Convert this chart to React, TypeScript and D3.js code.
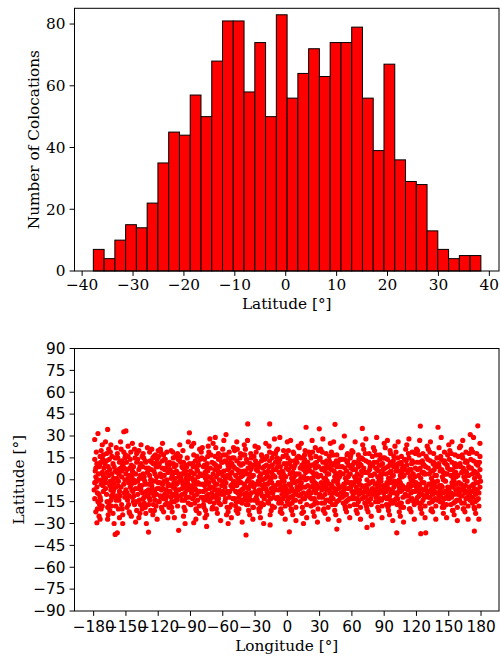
import React from "react";
import * as d3 from "d3";

// Histogram of latitude (counts per bin)
const binStart = -37.8;
const binWidth = 2.115;
const counts = [7, 4, 10, 15, 14, 22, 35, 45, 44, 57, 50, 68, 81, 81, 58, 74, 50, 83, 56, 64, 72, 63, 74, 74, 79, 56, 39, 67, 36, 29, 28, 13, 7, 4, 5, 5];
const histXTicks = [-40, -30, -20, -10, 0, 10, 20, 30, 40];
const histYTicks = [0, 20, 40, 60, 80];

const lonTicks = [-180, -150, -120, -90, -60, -30, 0, 30, 60, 90, 120, 150, 180];
const latTicks = [-90, -75, -60, -45, -30, -15, 0, 15, 30, 45, 60, 75, 90];

// Colocation positions [longitude, latitude]
const pointsA: [number, number][] = [
[-179,27.6],[-176,31.7],[-178,-22],[-177,-29.5],[-179,14],[-178,2],[-177,-5],[-175,9],[-174,-12],[-179,-2],[-176,-15],[-173,20],[-172,5],[-171,-8],[-175,-25],[-173,-3],[-170,12],[-178,8],[-174,16],[-172,-18],[-176,0],[-171,3],[-173,-20],[-177,11],[-175,-10],[-170,-1],[-172,24],[-179,-13],[-174,-27],[-171,17],
[-167,34.5],[-169,26],[-166,21],[-168,13],[-165,7],[-163,-1],[-169,-6],[-164,-14],[-167,-19],[-162,-23],[-160,-37.5],[-161,-30],[-166,3],[-168,-10],[-163,16],[-161,9],[-165,-4],[-169,1],[-162,-9],[-164,24],[-167,-27],[-160,15],[-163,4],[-166,-16],[-161,-2],[-168,18],[-164,-7],[-162,11],[-165,-21],[-160,6],
[-158,-36.4],[-152,32.9],[-150,33.5],[-158,18],[-156,12],[-154,2],[-159,-5],[-151,-12],[-157,-20],[-153,-24],[-155,8],[-152,-3],[-159,22],[-151,15],[-156,-8],[-154,-17],[-158,5],[-153,10],[-157,-1],[-150,-7],[-155,26],[-152,19],[-159,-14],[-151,0],[-156,-26],[-154,13],[-158,-11],[-153,-30],[-150,4],[-157,7],
[-148,23],[-146,14],[-144,6],[-142,-2],[-149,-9],[-143,-15],[-147,-22],[-141,-29],[-145,10],[-148,1],[-146,-5],[-140,18],[-144,-12],[-142,21],[-149,-19],[-147,3],[-143,9],[-141,-6],[-145,-25],[-148,16],[-146,-1],[-140,12],[-144,25],[-142,-17],[-149,7],[-147,-11],[-143,0],[-141,4],[-145,-3],[-140,-21],
[-138,20],[-136,11],[-134,4],[-132,-3],[-139,-10],[-133,-16],[-137,-23],[-131,-30],[-135,16],[-138,7],[-136,-7],[-130,22],[-134,-13],[-132,13],[-139,-1],[-137,9],[-133,2],[-131,-8],[-135,-20],[-129,-35.9],[-138,-26],[-136,24],[-130,5],[-134,18],[-132,-19],[-139,14],[-137,-4],[-133,-12],[-131,8],[-135,1],
[-128,19],[-126,12],[-124,6],[-122,-1],[-129,-7],[-123,-14],[-127,-21],[-121,-27],[-125,15],[-128,3],[-126,-4],[-120,20],[-124,-11],[-122,9],[-129,-17],[-127,0],[-123,11],[-121,-6],[-125,-24],[-128,-13],[-126,21],[-120,-2],[-124,16],[-122,-18],[-129,8],[-127,-9],[-123,4],[-121,14],[-125,-1],[-120,-15],
[-118,21],[-116,13],[-114,7],[-112,0],[-119,-6],[-113,-13],[-117,-19],[-111,-26],[-115,17],[-118,4],[-116,-3],[-110,10],[-114,-10],[-112,19],[-119,-15],[-117,2],[-113,8],[-111,-4],[-115,-22],[-118,-11],[-116,25],[-110,-8],[-114,14],[-112,-16],[-119,11],[-117,-7],[-113,-1],[-111,5],[-115,-13],[-110,-19],
[-108,20],[-106,15],[-104,5],[-102,-2],[-109,-8],[-103,-14],[-107,-22],[-101,-34.7],[-105,9],[-108,1],[-106,-5],[-100,13],[-104,-11],[-102,18],[-109,-17],[-107,3],[-103,6],[-101,-7],[-105,-26],[-108,-12],[-106,11],[-100,-1],[-104,16],[-102,-18],[-109,7],[-107,-10],[-103,-3],[-101,2],[-105,-15],[-100,24],
[-99,12],[-97,8],[-95,4],[-93,-1],[-98,-6],[-94,-12],[-96,-19],[-91,32.2],[-92,26],[-99,2],[-97,-3],[-90,6],[-95,-9],[-93,15],[-98,-14],[-96,5],[-94,1],[-91,-4],[-95,-21],[-99,-11],[-97,20],[-90,-7],[-94,10],[-92,-16],[-98,9],[-96,-2],[-93,3],[-91,11],[-95,-30],[-90,-17],
[-87,-29.5],[-89,23],[-87,17],[-85,9],[-83,2],[-88,-4],[-84,-10],[-86,-16],[-82,-23],[-81,14],[-89,5],[-87,-1],[-80,19],[-85,-7],[-83,12],[-88,-13],[-86,0],[-84,7],[-81,-3],[-85,-20],[-89,-9],[-87,25],[-80,-12],[-84,16],[-82,-18],[-88,11],[-86,-6],[-83,-2],[-81,4],[-85,-27],
[-79,22],[-77,14],[-75,8],[-73,-2],[-78,-8],[-74,-14],[-76,-21],[-75,-32],[-72,28],[-79,3],[-77,-4],[-70,12],[-75,-11],[-73,19],[-78,-17],[-76,1],[-74,6],[-71,-5],[-75,-24],[-79,-12],[-77,10],[-70,-9],[-74,16],[-72,-15],[-78,9],[-76,-7],[-73,2],[-71,17],[-75,-1],[-70,-20],
[-69,25],[-67,16],[-65,7],[-63,0],[-68,-6],[-64,-13],[-66,-20],[-62,-28],[-61,12],[-69,4],[-67,-3],[-60,21],[-65,-10],[-63,9],[-68,-16],[-66,2],[-64,14],[-61,-4],[-65,-23],[-69,-11],[-67,29],[-60,-8],[-64,18],[-62,-17],[-68,11],[-66,-7],[-63,5],[-61,-1],[-65,-14],[-60,3],
[-59,27],[-57,17],[-55,10],[-53,1],[-58,-5],[-54,-12],[-56,-19],[-52,-26],[-51,15],[-59,6],[-57,-2],[-50,22],[-55,-9],[-53,12],[-58,-15],[-56,3],[-54,8],[-51,-6],[-55,-22],[-59,-10],[-57,31],[-50,-1],[-54,19],[-52,-17],[-58,13],[-56,-8],[-53,4],[-51,-3],[-55,-30],[-50,9],
[-49,20],[-47,13],[-45,5],[-43,-2],[-48,-8],[-44,-15],[-46,-23],[-42,-29],[-41,17],[-49,8],[-47,-4],[-40,24],[-45,-12],[-43,10],[-48,-18],[-46,1],[-44,6],[-41,-6],[-45,-20],[-49,-13],[-47,26],[-40,-10],[-44,15],[-42,-16],[-48,3],[-46,-9],[-43,2],[-41,11],[-45,-1],[-40,-3],
[-36.8,38.3],[-38.4,-37.9],[-39,21],[-37,12],[-35,4],[-33,-3],[-38,-9],[-34,-14],[-36,-21],[-32,-27],[-31,16],[-39,6],[-37,-1],[-30,23],[-35,-11],[-33,9],[-38,-17],[-36,0],[-34,7],[-31,-5],[-35,-24],[-39,-12],[-37,27],[-30,-8],[-34,18],[-32,-19],[-38,14],[-36,-6],[-33,2],[-31,10],
[-29,19],[-27,11],[-25,3],[-23,-4],[-28,-10],[-24,-16],[-26,-22],[-22,-30],[-21,14],[-29,7],[-27,-1],[-20,25],[-25,-8],[-23,8],[-28,-14],[-26,2],[-24,13],[-21,-3],[-25,-19],[-29,-12],[-27,22],[-20,-6],[-24,17],[-22,-17],[-28,10],[-26,-7],[-23,0],[-21,5],[-25,-26],[-20,-11],
[-16.4,38.3],[-19,16],[-17,9],[-15,1],[-13,-5],[-18,-11],[-14,-18],[-16,-24],[-12,28],[-11,12],[-19,4],[-17,-2],[-10,20],[-15,-9],[-13,7],[-18,-15],[-16,-1],[-14,10],[-11,-4],[-15,-21],[-19,-8],[-17,23],[-10,-13],[-14,15],[-12,-19],[-18,6],[-16,-31],[-13,3],[-11,18],[-15,-6],
[-9,21],[-7,14],[-5,6],[-3,-1],[-8,-7],[-4,-13],[-6,-20],[-2,-27],[-1,17],[-9,9],[-7,-3],[0,26],[-5,-10],[-3,11],[-8,-16],[-6,2],[-4,5],[-1,-6],[-5,-23],[-9,-12],[-7,29],[0,-9],[-4,16],[-2,-18],[-8,12],[-6,-5],[-3,3],[-1,8],[-5,-1],[0,-15],
[1.9,-35.7],[1,20],[3,13],[5,5],[7,-2],[2,-8],[6,-14],[4,-21],[8,-28],[9,15],[1,7],[3,-4],[10,23],[5,-11],[7,10],[2,-17],[4,1],[6,8],[9,-5],[5,-24],[1,-13],[3,27],[10,-7],[6,18],[8,-19],[2,11],[4,-6],[7,3],[9,12],[5,-1],
[17.4,36],[11,22],[13,15],[15,7],[17,0],[12,-6],[16,-13],[14,-19],[18,-26],[19,12],[11,4],[13,-2],[20,19],[15,-9],[17,9],[12,-15],[14,2],[16,14],[19,-4],[15,-22],[11,-11],[13,25],[20,-8],[16,17],[18,-17],[12,8],[14,-5],[17,5],[19,1],[15,-30],
[29.7,34.9],[21,17],[23,10],[25,3],[27,-3],[22,-9],[26,-15],[24,-22],[28,-29],[29,20],[21,6],[23,-1],[30,14],[25,-7],[27,12],[22,-18],[24,0],[26,8],[29,-5],[25,-25],[21,-12],[23,27],[30,-10],[26,22],[28,-16],[22,15],[24,-4],[27,4],[29,9],[25,-13],
[31,21],[33,12],[35,6],[37,-1],[32,-7],[36,-14],[34,-20],[38,-27],[39,16],[31,3],[33,-4],[40,25],[35,-10],[37,9],[32,-16],[34,1],[36,11],[39,-3],[35,-23],[31,-11],[33,28],[40,-6],[36,18],[38,-19],[32,7],[34,-5],[37,4],[39,13],[35,-2],[40,-15],
[44.3,38],[46,-33.8],[41,19],[43,11],[45,4],[47,-3],[42,-9],[46,-15],[44,-21],[48,-28],[49,14],[41,7],[43,-1],[50,22],[45,-8],[47,12],[42,-17],[44,2],[46,9],[49,-5],[45,-24],[41,-12],[43,26],[50,-9],[46,17],[48,-14],[42,10],[44,-6],[47,0],[49,5],
[51,23],[53,14],[55,6],[57,-2],[52,-8],[56,-14],[54,-20],[58,-26],[59,17],[51,9],[53,-3],[60,20],[55,-10],[57,10],[52,-16],[54,1],[56,13],[59,-5],[55,-22],[51,-12],[53,30],[60,-8],[56,18],[58,-18],[52,4],[54,-6],[57,3],[59,8],[55,-1],[60,-13],
[69.7,35.2],[61,19],[63,12],[65,4],[67,-3],[62,-9],[66,-15],[64,-21],[68,-27],[69,15],[61,7],[63,-1],[70,24],[65,-7],[67,11],[62,-17],[64,2],[66,9],[69,-4],[65,-23],[61,-11],[63,26],[70,-9],[66,17],[68,-19],[62,12],[64,-5],[67,0],[69,6],[65,-13],
[74,-32.7],[79,-31],[71,21],[73,13],[75,5],[77,-2],[72,-8],[76,-14],[74,-20],[78,-25],[79,16],[71,8],[73,-4],[80,22],[75,-10],[77,9],[72,-16],[74,0],[76,12],[79,-6],[75,-22],[71,-12],[73,28],[80,-7],[76,18],[78,-17],[72,5],[74,-6],[77,3],[79,10],
[81,20],[83,12],[85,6],[87,-1],[82,-7],[86,-13],[84,-19],[88,-26],[89,15],[81,4],[83,-3],[90,25],[85,-9],[87,10],[82,-15],[84,2],[86,14],[89,-4],[85,-21],[81,-10],[83,29],[90,-6],[86,17],[88,-18],[82,8],[84,-5],[87,1],[89,7],[85,-1],[90,-12],
[91,22],[93,14],[95,5],[97,-2],[92,-8],[96,-14],[94,-21],[98,-28],[99,16],[91,8],[93,-3],[100,23],[95,-11],[97,10],[92,-17],[94,1],[96,12],[99,-5],[95,-24],[91,-12],[93,27],[100,-9],[96,18],[98,-16],[92,4],[94,-6],[97,2],[99,9],[95,0],[100,-14],
[101.7,-36.4],[101,19],[103,11],[105,3],[107,-4],[102,-10],[106,-16],[104,-22],[108,-29],[109,14],[101,6],[103,-1],[110,21],[105,-8],[107,8],[102,-17],[104,0],[106,11],[109,-6],[105,-25],[101,-13],[103,26],[110,-11],[106,16],[108,-19],[102,9],[104,-5],[107,2],[109,7],[105,-2],
[111,24],[113,15],[115,7],[117,-1],[112,-7],[116,-13],[114,-20],[118,-27],[119,18],[111,10],[113,-3],[120,21],[115,-9],[117,12],[112,-15],[114,2],[116,13],[119,-4],[115,-22],[111,-11],[113,28],[120,-7],[116,19],[118,-17],[112,5],[114,-5],[117,4],[119,8],[115,0],[120,-14],
[123.6,36.8],[124,-37],[128.6,-36.4],[121,20],[123,12],[125,5],[127,-2],[122,-8],[126,-14],[124,-20],[128,-26],[129,16],[121,7],[123,-3],[130,23],[125,-10],[127,10],[122,-16],[124,1],[126,11],[129,-5],[125,-23],[121,-12],[123,27],[130,-8],[126,18],[128,-18],[122,3],[124,-6],[127,4],
[131,21],[133,13],[135,6],[137,-2],[132,-8],[136,-14],[134,-20],[138,-27],[139,15],[131,8],[133,-3],[140,36],[135,-10],[137,10],[132,-16],[134,1],[136,12],[139,-5],[135,-22],[131,-12],[133,26],[140,-9],[136,18],[138,-18],[132,4],[134,-6],[137,3],[139,9],[135,-1],[140,-14],
[141,22],[143,14],[145,5],[147,-1],[142,-7],[146,-13],[144,-19],[148,-26],[149,17],[141,9],[143,-4],[150,24],[145,-9],[147,11],[142,-15],[144,2],[146,13],[149,-5],[145,-23],[141,-11],[143,29],[150,-7],[146,19],[148,-17],[142,6],[144,-5],[147,4],[149,8],[145,0],[150,-13],
[151,20],[153,12],[155,4],[157,-3],[152,-9],[156,-15],[154,-21],[158,-28],[159,16],[151,7],[153,-2],[160,22],[155,-10],[157,9],[152,-17],[154,1],[156,11],[159,-6],[155,-24],[151,-12],[153,26],[160,-8],[156,17],[158,-19],[152,3],[154,-5],[157,2],[159,10],[155,-1],[160,-14],
[161,23],[163,15],[165,6],[167,-1],[162,-7],[166,-13],[164,-20],[168,-27],[169,18],[161,9],[163,-4],[170,31],[165,-9],[167,12],[162,-16],[164,2],[166,13],[169,-5],[165,-22],[161,-11],[163,27],[170,-8],[166,19],[168,-18],[162,5],[164,-6],[167,3],[169,8],[165,0],[170,-14],
[173.8,-35.2],[177,37],[171,21],[173,13],[175,5],[177,-2],[172,-8],[176,-14],[174,-20],[178,-27],[179,16],[171,8],[173,-3],[179,25],[175,-10],[177,10],[172,-16],[174,1],[176,12],[179,-5],[175,-23],[171,-12],[173,29],[178,-9],[176,18],[178,-18],[172,4],[174,-6],[177,3],[179,7]
];

const pointsB: [number, number][] = [
[-178.5,6],[-176.5,-9],[-173.5,12],[-171.5,-4],[-177.5,19],[-174.5,-17],[-172.5,0],[-179.5,-7],[-170.5,8],[-175.5,4],[-173.5,-14],[-177.5,-1],[-171.5,14],[-176.5,-20],[-174.5,10],
[-168.5,-2],[-166.5,9],[-163.5,-11],[-161.5,1],[-167.5,-15],[-164.5,19],[-162.5,-5],[-169.5,11],[-160.5,-12],[-165.5,14],[-163.5,-18],[-167.5,5],[-161.5,-7],[-166.5,-24],[-164.5,-1],
[-158.5,1],[-156.5,-14],[-153.5,6],[-151.5,-9],[-157.5,15],[-154.5,-5],[-152.5,11],[-159.5,-18],[-150.5,17],[-155.5,-11],[-153.5,-20],[-157.5,-4],[-151.5,8],[-156.5,4],[-154.5,21],
[-148.5,-14],[-146.5,8],[-143.5,-8],[-141.5,15],[-147.5,-2],[-144.5,2],[-142.5,-11],[-149.5,12],[-140.5,-15],[-145.5,19],[-143.5,5],[-147.5,-17],[-141.5,-1],[-146.5,-23],[-144.5,-7],
[-138.5,-6],[-136.5,3],[-133.5,-19],[-131.5,12],[-137.5,-14],[-134.5,9],[-132.5,-1],[-139.5,19],[-130.5,-11],[-135.5,-4],[-133.5,15],[-137.5,1],[-131.5,-23],[-136.5,-17],[-134.5,-9],
[-128.5,-3],[-126.5,7],[-123.5,-8],[-121.5,2],[-127.5,13],[-124.5,-17],[-122.5,17],[-129.5,-11],[-120.5,9],[-125.5,-6],[-123.5,-21],[-127.5,-14],[-121.5,-10],[-126.5,0],[-124.5,11],
[-118.5,-2],[-116.5,8],[-113.5,-17],[-111.5,11],[-117.5,-12],[-114.5,3],[-112.5,-7],[-119.5,16],[-110.5,-3],[-115.5,-6],[-113.5,14],[-117.5,19],[-111.5,-11],[-116.5,-20],[-114.5,-1],
[-108.5,-4],[-106.5,5],[-103.5,-9],[-101.5,14],[-107.5,-15],[-104.5,1],[-102.5,-13],[-109.5,12],[-100.5,4],[-105.5,-2],[-103.5,10],[-107.5,-19],[-101.5,-11],[-106.5,19],[-104.5,-6],
[-98.5,0],[-96.5,12],[-93.5,-7],[-91.5,3],[-97.5,-10],[-94.5,6],[-92.5,-3],[-99.5,16],[-90.5,1],[-95.5,-14],[-93.5,9],[-97.5,4],[-91.5,-12],[-96.5,-25],[-94.5,-5],
[-88.5,1],[-86.5,-11],[-83.5,6],[-81.5,-8],[-87.5,9],[-84.5,-3],[-82.5,10],[-89.5,-17],[-80.5,3],[-85.5,13],[-83.5,-14],[-87.5,-7],[-81.5,21],[-86.5,4],[-84.5,-21],
[-78.5,-3],[-76.5,5],[-73.5,-10],[-71.5,8],[-77.5,-14],[-74.5,11],[-72.5,-6],[-79.5,15],[-70.5,1],[-75.5,3],[-73.5,23],[-77.5,-19],[-71.5,-13],[-76.5,-26],[-74.5,-3],
[-68.5,-1],[-66.5,10],[-63.5,-7],[-61.5,5],[-67.5,-12],[-64.5,4],[-62.5,15],[-69.5,-19],[-60.5,12],[-65.5,-3],[-63.5,-16],[-67.5,7],[-61.5,-10],[-66.5,22],[-64.5,-9],
[-58.5,-2],[-56.5,12],[-53.5,-8],[-51.5,5],[-57.5,-13],[-54.5,2],[-52.5,-4],[-59.5,17],[-50.5,-13],[-55.5,7],[-53.5,-19],[-57.5,1],[-51.5,11],[-56.5,-24],[-54.5,15],
[-48.5,-4],[-46.5,7],[-43.5,-10],[-41.5,3],[-47.5,-15],[-44.5,11],[-42.5,-7],[-49.5,15],[-40.5,6],[-45.5,-2],[-43.5,18],[-47.5,-21],[-41.5,-14],[-46.5,21],[-44.5,-8],
[-38.5,-5],[-36.5,8],[-33.5,-9],[-31.5,3],[-37.5,-14],[-34.5,11],[-32.5,-2],[-39.5,17],[-30.5,-14],[-35.5,1],[-33.5,15],[-37.5,4],[-31.5,-19],[-36.5,-17],[-34.5,-4],
[-28.5,-3],[-26.5,9],[-23.5,-11],[-21.5,9],[-27.5,-16],[-24.5,4],[-22.5,-6],[-29.5,13],[-20.5,1],[-25.5,-3],[-23.5,16],[-27.5,6],[-21.5,-13],[-26.5,-20],[-24.5,-9],
[-18.5,-3],[-16.5,13],[-13.5,-9],[-11.5,2],[-17.5,-16],[-14.5,5],[-12.5,-12],[-19.5,10],[-10.5,7],[-15.5,-13],[-13.5,18],[-17.5,2],[-11.5,-7],[-16.5,19],[-14.5,-2],
[-8.5,-2],[-6.5,9],[-3.5,-8],[-1.5,2],[-7.5,-13],[-4.5,1],[-2.5,-4],[-9.5,15],[-0.5,11],[-5.5,-16],[-3.5,20],[-7.5,5],[-1.5,-11],[-6.5,-22],[-4.5,-7],
[1.5,-3],[3.5,9],[6.5,-8],[8.5,4],[2.5,-12],[5.5,1],[7.5,-14],[0.5,15],[9.5,-1],[4.5,-16],[6.5,13],[2.5,4],[8.5,-10],[3.5,-20],[5.5,19],
[11.5,-4],[13.5,10],[16.5,-5],[18.5,6],[12.5,-10],[15.5,2],[17.5,-11],[10.5,16],[19.5,-9],[14.5,-13],[16.5,20],[12.5,1],[18.5,12],[13.5,-23],[15.5,12],
[21.5,-5],[23.5,5],[26.5,-9],[28.5,2],[22.5,-13],[25.5,11],[27.5,-6],[20.5,9],[29.5,-12],[24.5,-17],[26.5,16],[22.5,1],[28.5,-20],[23.5,19],[25.5,-2],
[31.5,-2],[33.5,8],[36.5,-7],[38.5,4],[32.5,-12],[35.5,1],[37.5,-14],[30.5,15],[39.5,-9],[34.5,-16],[36.5,13],[32.5,19],[38.5,8],[33.5,-21],[35.5,-5],
[41.5,-4],[43.5,6],[46.5,-10],[48.5,2],[42.5,-13],[45.5,13],[47.5,-6],[40.5,11],[49.5,-12],[44.5,-17],[46.5,4],[42.5,17],[48.5,9],[43.5,-9],[45.5,-1],
[51.5,-5],[53.5,8],[56.5,-6],[58.5,4],[52.5,-11],[55.5,12],[57.5,-13],[50.5,14],[59.5,-2],[54.5,-15],[56.5,2],[52.5,-3],[58.5,15],[53.5,-18],[55.5,17],
[61.5,-3],[63.5,7],[66.5,-10],[68.5,3],[62.5,-13],[65.5,11],[67.5,-7],[60.5,10],[69.5,-13],[64.5,-17],[66.5,14],[62.5,2],[68.5,10],[63.5,-8],[65.5,-1],
[71.5,-5],[73.5,5],[76.5,-8],[78.5,3],[72.5,-12],[75.5,12],[77.5,-13],[70.5,14],[79.5,-1],[74.5,-15],[76.5,7],[72.5,18],[78.5,-10],[73.5,-18],[75.5,-3],
[81.5,-3],[83.5,7],[86.5,-7],[88.5,4],[82.5,-12],[85.5,10],[87.5,-14],[80.5,12],[89.5,-9],[84.5,-15],[86.5,3],[82.5,17],[88.5,11],[83.5,-10],[85.5,-4],
[91.5,-4],[93.5,9],[96.5,-9],[98.5,3],[92.5,-13],[95.5,11],[97.5,-7],[90.5,15],[99.5,-1],[94.5,-17],[96.5,6],[92.5,-2],[98.5,13],[93.5,-19],[95.5,20],
[101.5,-3],[103.5,6],[106.5,-7],[108.5,3],[102.5,-13],[105.5,12],[107.5,-12],[100.5,10],[109.5,-10],[104.5,-16],[106.5,5],[102.5,15],[108.5,9],[103.5,-8],[105.5,-19],
[111.5,-5],[113.5,7],[116.5,-8],[118.5,2],[112.5,-11],[115.5,11],[117.5,-15],[110.5,13],[119.5,-2],[114.5,-14],[116.5,4],[112.5,18],[118.5,-8],[113.5,-20],[115.5,-4],
[121.5,-4],[123.5,8],[126.5,-7],[128.5,4],[122.5,-11],[125.5,13],[127.5,-12],[120.5,12],[129.5,-10],[124.5,-16],[126.5,5],[122.5,17],[128.5,9],[123.5,-19],[125.5,-2],
[131.5,-3],[133.5,6],[136.5,-8],[138.5,3],[132.5,-12],[135.5,11],[137.5,-13],[130.5,14],[139.5,-1],[134.5,-15],[136.5,7],[132.5,19],[138.5,-9],[133.5,-21],[135.5,-5],
[141.5,-4],[143.5,7],[146.5,-8],[148.5,4],[142.5,-12],[145.5,12],[147.5,-12],[140.5,11],[149.5,-10],[144.5,-16],[146.5,4],[142.5,16],[148.5,10],[143.5,-9],[145.5,-19],
[151.5,-5],[153.5,7],[156.5,-7],[158.5,3],[152.5,-12],[155.5,10],[157.5,-14],[150.5,14],[159.5,-2],[154.5,-16],[156.5,5],[152.5,18],[158.5,-10],[153.5,-21],[155.5,-3],
[161.5,-3],[163.5,8],[166.5,-8],[168.5,3],[162.5,-11],[165.5,12],[167.5,-12],[160.5,11],[169.5,-10],[164.5,-16],[166.5,5],[162.5,17],[168.5,9],[163.5,-20],[165.5,-4],
[171.5,-4],[173.5,6],[176.5,-7],[178.5,2],[172.5,-12],[175.5,11],[177.5,-13],[170.5,14],[179.5,-1],[174.5,-15],[176.5,4],[172.5,19],[178.5,12],[173.5,-19],[175.5,-2]
];

const SERIF = "'DejaVu Serif', serif";
const SANS = "'DejaVu Sans', sans-serif";
const FS = 15.3;
const fmt = (v: number) => (v < 0 ? "\u2212" + Math.abs(v) : String(v));

export default function App() {
  const W = 501, H = 658;
  // top histogram axes
  const hx = d3.scaleLinear().domain([-41.5, 41.9]).range([74.5, 499]);
  const hy = d3.scaleLinear().domain([0, 85.1]).range([271, 8.3]);
  // bottom scatter axes
  const sx = d3.scaleLinear().domain([-197.8, 196.7]).range([74.5, 499]);
  const sy = d3.scaleLinear().domain([-90, 90]).range([611, 348.5]);

  const bins = counts.map((c, i) => ({ x0: binStart + i * binWidth, x1: binStart + (i + 1) * binWidth, c }));
  const points = pointsA.concat(pointsB);
  const tick = 4.9;

  return (
    <svg width={W} height={H} style={{ position: "absolute", left: 0, top: 0, background: "#fff" }}>
      {/* ---------- top histogram ---------- */}
      <g>
        {bins.map((b, i) => (
          <rect key={i} x={hx(b.x0)} y={hy(b.c)} width={hx(b.x1) - hx(b.x0)} height={hy(0) - hy(b.c)}
            fill="#ff0000" stroke="#000" strokeWidth={1} />
        ))}
        <rect x={74.5} y={8.3} width={499 - 74.5} height={271 - 8.3} fill="none" stroke="#000" strokeWidth={1} />
        {histXTicks.map((t) => (
          <g key={t}>
            <line x1={hx(t)} x2={hx(t)} y1={271} y2={271 + tick} stroke="#000" />
            <text x={hx(t)} y={290} textAnchor="middle" fontFamily={SERIF} fontSize={FS} fill="#000">{fmt(t)}</text>
          </g>
        ))}
        {histYTicks.map((t) => (
          <g key={t}>
            <line x1={74.5} x2={74.5 - tick} y1={hy(t)} y2={hy(t)} stroke="#000" />
            <text x={65.5} y={hy(t)} dy="0.35em" textAnchor="end" fontFamily={SERIF} fontSize={FS} fill="#000">{fmt(t)}</text>
          </g>
        ))}
        <text x={286.75} y={308.5} textAnchor="middle" fontFamily={SERIF} fontSize={FS} fill="#000">Latitude [°]</text>
        <text transform={`translate(38.5,${(8.3 + 271) / 2}) rotate(-90)`} textAnchor="middle" fontFamily={SERIF} fontSize={FS} fill="#000">Number of Colocations</text>
      </g>

      {/* ---------- bottom scatter ---------- */}
      <g>
        {points.map((p, i) => (
          <circle key={i} cx={sx(p[0])} cy={sy(p[1])} r={2.6} fill="#ff0000" />
        ))}
        <rect x={74.5} y={348.5} width={499 - 74.5} height={611 - 348.5} fill="none" stroke="#000" strokeWidth={1} />
        {lonTicks.map((t) => (
          <g key={t}>
            <line x1={sx(t)} x2={sx(t)} y1={611} y2={611 + tick} stroke="#000" />
            <text x={sx(t)} y={631.5} textAnchor="middle" fontFamily={SANS} fontSize={FS} fill="#000">{fmt(t)}</text>
          </g>
        ))}
        {latTicks.map((t) => (
          <g key={t}>
            <line x1={74.5} x2={74.5 - tick} y1={sy(t)} y2={sy(t)} stroke="#000" />
            <text x={65.5} y={sy(t)} dy="0.35em" textAnchor="end" fontFamily={SANS} fontSize={FS} fill="#000">{fmt(t)}</text>
          </g>
        ))}
        <text x={286.75} y={651} textAnchor="middle" fontFamily={SERIF} fontSize={FS} fill="#000">Longitude [°]</text>
        <text transform={`translate(24,${(348.5 + 611) / 2}) rotate(-90)`} textAnchor="middle" fontFamily={SERIF} fontSize={FS} fill="#000">Latitude [°]</text>
      </g>
    </svg>
  );
}
